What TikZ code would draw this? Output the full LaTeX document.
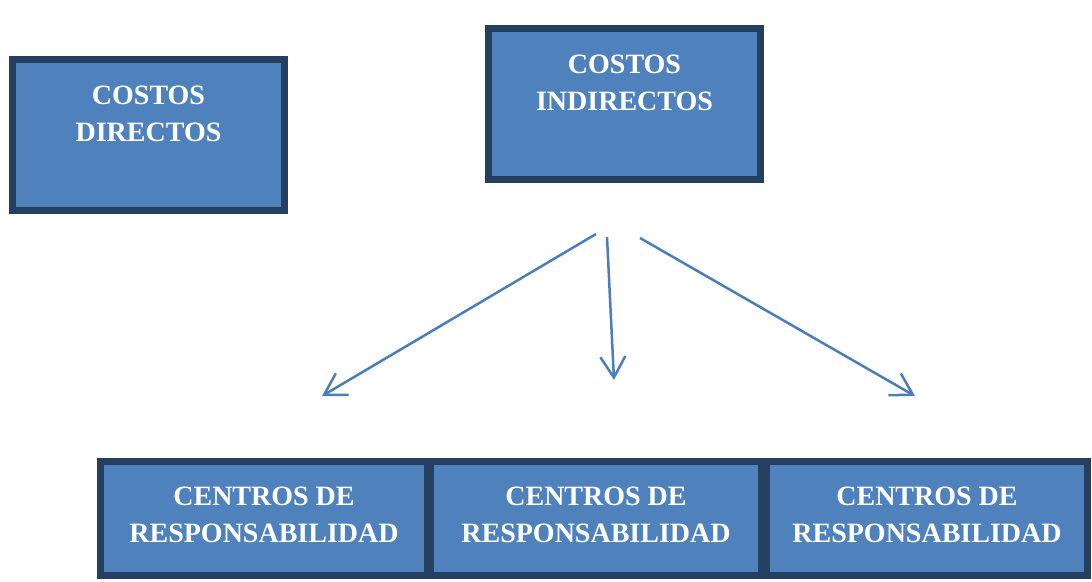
\documentclass[tikz,border=0pt]{standalone}
\usepackage{fontspec}
\setmainfont{Liberation Serif}
\usetikzlibrary{arrows.meta, positioning}

\definecolor{boxfill}{HTML}{4F81BD}
\definecolor{boxline}{HTML}{243F60}
\definecolor{arrowblue}{HTML}{4A7EBB}

\begin{document}
\begin{tikzpicture}[x=1pt, y=-1pt,
    costbox/.style={draw=boxline, line width=7pt, fill=boxfill, inner sep=0pt},
    boxtext/.style={text=white, font=\bfseries\fontsize{28}{37}\selectfont, align=center, inner sep=0pt},
    flow/.style={-{Straight Barb[length=21pt, width=25pt]}, line width=2.5pt, arrowblue}]
    \useasboundingbox[fill=white] (0,0) rectangle (1092,581);

    % Cost boxes
    \node[costbox, minimum width=272pt, minimum height=151pt] (dir) at (148.5,135) {};
    \node[boxtext, below=30pt of dir.north] (dirtxt) {COSTOS\\DIRECTOS};
    \node[costbox, minimum width=272pt, minimum height=151pt] (ind) at (624.5,104) {};
    \node[boxtext, below=30pt of ind.north] (indtxt) {COSTOS\\INDIRECTOS};

    % Responsibility centres
    \node[costbox, minimum width=327pt, minimum height=114pt] (cr1) at (264,518.5) {};
    \node[costbox, minimum width=331pt, minimum height=114pt, right=-4pt of cr1] (cr2) {};
    \node[costbox, minimum width=321pt, minimum height=114pt, right=-2pt of cr2] (cr3) {};
    \foreach \n in {1,2,3}
        \node[boxtext, below=29pt of cr\n.north] (crtxt\n) {CENTROS DE\\RESPONSABILIDAD};

    % Arrows
    \coordinate (s1) at (596,234);
    \coordinate (s2) at (607,237);
    \coordinate (s3) at (640,238);
    \coordinate (t1) at (322,396);
    \coordinate (t2) at (614,380);
    \coordinate (t3) at (915,396);
    \foreach \n in {1,2,3}
        \draw[flow] (s\n) -- (t\n);
\end{tikzpicture}
\end{document}
